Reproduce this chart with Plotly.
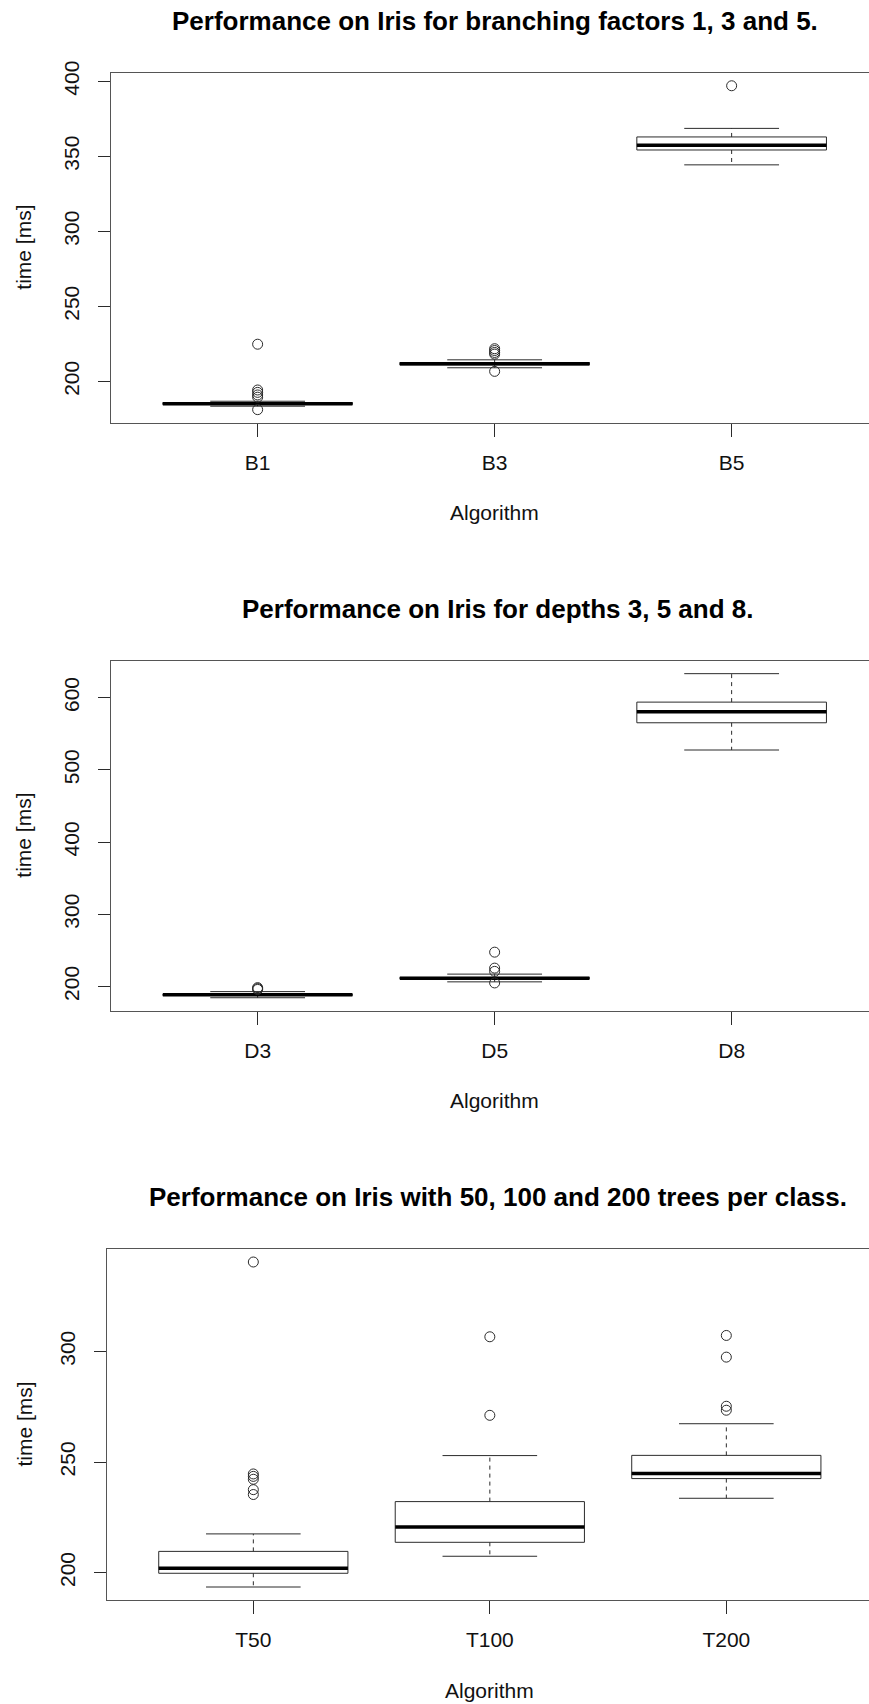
import plotly.graph_objects as go

# ---------------- data ----------------
b_labels = ["B1", "B3", "B5"]
b_lower = [183.5, 209.1, 344.3]
b_q1 = [184.6, 211.0, 354.2]
b_median = [185.2, 211.8, 357.3]
b_q3 = [185.9, 212.6, 362.9]
b_upper = [186.8, 214.4, 368.6]
b_outliers = [[224.8, 194.3, 192.7, 191.0, 189.5, 181.2],
              [221.8, 220.6, 219.3, 218.2, 206.7],
              [397.0]]

d_labels = ["D3", "D5", "D8"]
d_lower = [184.5, 206.5, 527.5]
d_q1 = [187.7, 210.8, 565.2]
d_median = [188.5, 211.6, 580.4]
d_q3 = [189.3, 212.6, 593.8]
d_upper = [193.0, 217.2, 633.2]
d_outliers = [[198.5, 197.2, 196.0],
              [247.6, 225.5, 221.0, 205.0],
              []]

t_labels = ["T50", "T100", "T200"]
t_lower = [193.5, 207.4, 233.6]
t_q1 = [199.7, 213.7, 242.5]
t_median = [202.0, 220.6, 244.8]
t_q3 = [209.6, 232.1, 253.0]
t_upper = [217.5, 252.9, 267.3]
t_outliers = [[340.4, 244.6, 243.5, 242.2, 237.5, 235.3],
              [306.6, 271.1],
              [307.2, 297.4, 275.2, 273.4]]

titles = ["Performance on Iris for branching factors 1, 3 and 5.",
          "Performance on Iris for depths 3, 5 and 8.",
          "Performance on Iris with 50, 100 and 200 trees per class."]
y_ticks = [[200, 250, 300, 350, 400],
           [200, 300, 400, 500, 600],
           [200, 250, 300]]
x_title = "Algorithm"
y_title = "time [ms]"

# ---------------- layout constants ----------------
W, H = 869, 1704
FONT = "Liberation Sans, Arial, Helvetica, sans-serif"
LINE = "#2b2b2b"
FRAME = "#555555"
# per panel: plot left px, plot top px, plot bottom px, tick spacing px, title centre px
panels_geo = [
    dict(left=110.7, top=72.8, bottom=422.6, step=237.0, tcx=495.0),
    dict(left=110.7, top=660.7, bottom=1010.7, step=237.0, tcx=497.0),
    dict(left=106.7, top=1249.0, bottom=1600.0, step=236.5, tcx=498.0),
]

fig = go.Figure()


def r_range(lo, hi):
    pad = (hi - lo) * 0.04
    return [lo - pad, hi + pad]


def add_panel(labels, lower, q1, med, q3, upper, outliers, xa, ya):
    for i in range(len(labels)):
        x = i + 1
        common = dict(xaxis=xa, yaxis=ya, hoverinfo="skip", showlegend=False)
        # whiskers (dashed)
        fig.add_trace(go.Scatter(
            x=[x, x, None, x, x], y=[q3[i], upper[i], None, q1[i], lower[i]],
            mode="lines", line=dict(color=LINE, width=1, dash="4px,4px"), **common))
        # staples
        fig.add_trace(go.Scatter(
            x=[x - 0.2, x + 0.2, None, x - 0.2, x + 0.2],
            y=[upper[i], upper[i], None, lower[i], lower[i]],
            mode="lines", line=dict(color=LINE, width=1), **common))
        # box
        fig.add_trace(go.Scatter(
            x=[x - 0.4, x + 0.4, x + 0.4, x - 0.4, x - 0.4],
            y=[q1[i], q1[i], q3[i], q3[i], q1[i]],
            mode="lines", line=dict(color=LINE, width=1), **common))
        # median
        fig.add_trace(go.Scatter(
            x=[x - 0.4, x + 0.4], y=[med[i], med[i]],
            mode="lines", line=dict(color="#000000", width=3.5), **common))
        # outliers
        if outliers[i]:
            fig.add_trace(go.Scatter(
                x=[x] * len(outliers[i]), y=outliers[i], mode="markers",
                marker=dict(symbol="circle-open", size=10, color=LINE,
                            line=dict(width=1, color=LINE)), **common))


datasets = [
    (b_labels, b_lower, b_q1, b_median, b_q3, b_upper, b_outliers),
    (d_labels, d_lower, d_q1, d_median, d_q3, d_upper, d_outliers),
    (t_labels, t_lower, t_q1, t_median, t_q3, t_upper, t_outliers),
]

layout_axes = {}
annotations = []
for k, (ds, geo) in enumerate(zip(datasets, panels_geo)):
    labels, lower, q1, med, q3, upper, outliers = ds
    sfx = "" if k == 0 else str(k + 1)
    xa, ya = "x" + sfx, "y" + sfx
    add_panel(labels, lower, q1, med, q3, upper, outliers, xa, ya)

    allv = list(lower) + list(upper) + [v for o in outliers for v in o]
    yr = r_range(min(allv), max(allv))
    x0 = 0.5 - 0.04 * len(labels)  # R's extended xlim start
    xr = [x0, x0 + (W - geo["left"]) / geo["step"]]

    ydom = [1 - geo["bottom"] / H, 1 - geo["top"] / H]
    layout_axes["xaxis" + sfx] = dict(
        domain=[geo["left"] / W, 1], range=xr, anchor=ya,
        tickmode="array", tickvals=list(range(1, len(labels) + 1)), ticktext=labels,
        ticks="outside", ticklen=13, tickwidth=1, tickcolor=LINE,
        showline=True, linecolor=FRAME, linewidth=1, mirror=True,
        showgrid=False, zeroline=False, automargin=False,
        tickfont=dict(family=FONT, size=21, color="#111111"),
        ticklabelstandoff=8, fixedrange=True)
    layout_axes["yaxis" + sfx] = dict(
        domain=ydom, range=yr, anchor=xa,
        tickmode="array", tickvals=y_ticks[k], ticktext=[str(v) for v in y_ticks[k]],
        ticks="outside", ticklen=12, tickwidth=1, tickcolor=LINE, tickangle=-90,
        showline=True, linecolor=FRAME, linewidth=1, mirror=False,
        showgrid=False, zeroline=False, automargin=False,
        tickfont=dict(family=FONT, size=21, color="#111111"),
        ticklabelstandoff=10, fixedrange=True)

    plot_cx = geo["left"] + (len(labels) + 1 - 2 * x0) / 2 * geo["step"]
    annotations.append(dict(
        text="<b>%s</b>" % titles[k], x=geo["tcx"] / W, y=1 - (geo["top"] - 52) / H,
        xref="paper", yref="paper", xanchor="center", yanchor="middle", showarrow=False,
        font=dict(family=FONT, size=26, color="#000000")))
    annotations.append(dict(
        text=x_title, x=plot_cx / W, y=1 - (geo["bottom"] + 90) / H,
        xref="paper", yref="paper", xanchor="center", yanchor="middle", showarrow=False,
        font=dict(family=FONT, size=21, color="#111111")))
    annotations.append(dict(
        text=y_title, x=24 / W, y=(ydom[0] + ydom[1]) / 2, textangle=-90,
        xref="paper", yref="paper", xanchor="center", yanchor="middle", showarrow=False,
        font=dict(family=FONT, size=21, color="#111111")))

fig.update_layout(
    width=W, height=H, autosize=False, template="none",
    margin=dict(l=0, r=0, t=0, b=0, pad=0),
    paper_bgcolor="white", plot_bgcolor="white",
    showlegend=False, annotations=annotations, **layout_axes)

fig.write_html("out.html", config={"displayModeBar": False, "staticPlot": True})
